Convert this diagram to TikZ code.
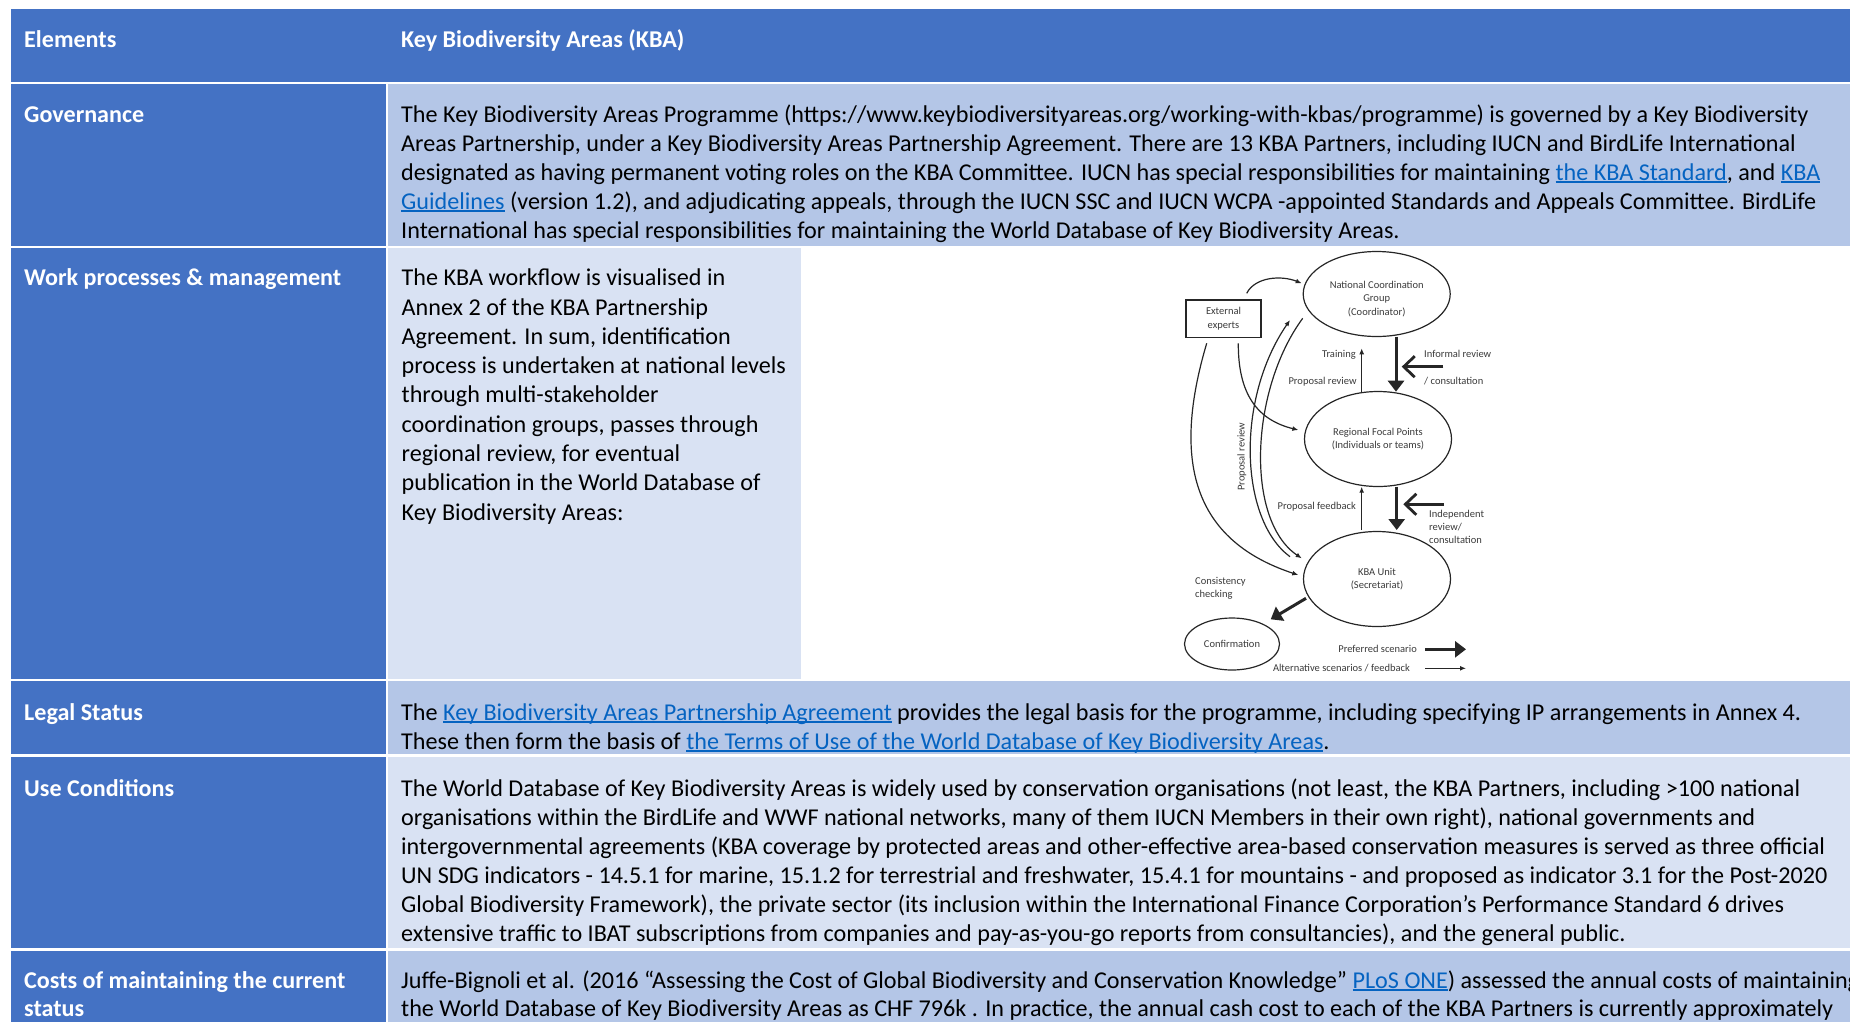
\documentclass[tikz,border=0pt]{standalone}
\usepackage{fontspec}
\setmainfont{Carlito}
\usetikzlibrary{arrows.meta,shapes.geometric,calc}
\definecolor{hdr}{HTML}{4472C4}
\definecolor{darkcell}{HTML}{B4C6E7}
\definecolor{lightcell}{HTML}{D9E2F3}
\definecolor{linkblue}{HTML}{0563C1}
\definecolor{dg}{HTML}{3A3A3A}
\definecolor{dl}{HTML}{262626}
\newlength\lnkw
\newcommand\lnk[1]{\settowidth\lnkw{#1}\textcolor{linkblue}{\rlap{\rule[-2.6pt]{\lnkw}{1.6pt}}#1}}
\begin{document}
\begin{tikzpicture}[x=1pt,y=-1pt,
  lbl/.style={anchor=base west,text=white,font=\bfseries\fontsize{24.1}{29}\selectfont,inner sep=0,align=left},
  txt/.style={anchor=base west,text=black,font=\fontsize{24.15}{29}\selectfont,inner sep=0},
  dtxt/.style={text=dg,font=\fontsize{10.5}{13.3}\selectfont,align=center,inner sep=0},
  ell/.style={ellipse,draw=dl,line width=1.2pt,inner sep=0},
  thinarr/.style={draw=dl,line width=1.2pt,-{Latex[length=6pt,width=5pt]}},
  thickarr/.style={draw=dl,line width=3pt,-{Triangle[length=11pt,width=16pt]}},
  barbarr/.style={draw=dl,line width=2.8pt,-{Straight Barb[length=11pt,width=21pt]}}
]
\useasboundingbox (0,0) rectangle (1850,1021);
\clip (0,0) rectangle (1850,1021);
% ---------- table fills ----------
\fill[hdr] (10.5,9) rectangle (1850,81.5);
\fill[hdr] (10.5,84) rectangle (385.5,245.5);
\fill[darkcell] (388,84) rectangle (1850,245.5);
\fill[hdr] (10.5,247.5) rectangle (385.5,679);
\fill[lightcell] (388,247.5) rectangle (801,679);
\fill[hdr] (10.5,681) rectangle (385.5,754);
\fill[darkcell] (388,681) rectangle (1850,754);
\fill[hdr] (10.5,757) rectangle (385.5,948);
\fill[lightcell] (388,757) rectangle (1850,948);
\fill[hdr] (10.5,950.5) rectangle (385.5,1030);
\fill[darkcell] (388,950.5) rectangle (1850,1030);
% ---------- header ----------
\node[lbl] (hA) at (24,47.7) {Elements};
\node[lbl] (hB) at (401,47.7) {Key Biodiversity Areas (KBA)};
% ---------- governance ----------
\node[lbl] (lGov) at (24,122) {Governance};
\node[txt] (g1) at (401,122) {The Key Biodiversity Areas Programme (https://www.keybiodiversityareas.org/working-with-kbas/programme) is governed by a Key Biodiversity};
\node[txt] (g2) at (401,151) {Areas Partnership, under a Key Biodiversity Areas Partnership Agreement. There are 13 KBA Partners, including IUCN and BirdLife International};
\node[txt] (g3) at (401,180) {designated as having permanent voting roles on the KBA Committee. IUCN has special responsibilities for maintaining \lnk{the KBA Standard}, and \lnk{KBA}};
\node[txt] (g4) at (401,209) {\lnk{Guidelines} (version 1.2), and adjudicating appeals, through the IUCN SSC and IUCN WCPA -appointed Standards and Appeals Committee. BirdLife};
\node[txt] (g5) at (401,238) {International has special responsibilities for maintaining the World Database of Key Biodiversity Areas.};
% ---------- work processes ----------
\node[lbl] (lWork) at (24,285.7) {Work processes \& management};
\node[txt] (w1) at (401.5,285.7) {The KBA workflow is visualised in};
\node[txt] (w2) at (401.5,315) {Annex 2 of the KBA Partnership};
\node[txt] (w3) at (401.5,344.3) {Agreement. In sum, identification};
\node[txt] (w4) at (401.5,373.6) {process is undertaken at national levels};
\node[txt] (w5) at (401.5,402.9) {through multi-stakeholder};
\node[txt] (w6) at (401.5,432.2) {coordination groups, passes through};
\node[txt] (w7) at (401.5,461.5) {regional review, for eventual};
\node[txt] (w8) at (401.5,490.8) {publication in the World Database of};
\node[txt] (w9) at (401.5,520.1) {Key Biodiversity Areas:};
% ---------- legal ----------
\node[lbl] (lLegal) at (24,720) {Legal Status};
\node[txt] (l1) at (401,720) {The \lnk{Key Biodiversity Areas Partnership Agreement} provides the legal basis for the programme, including specifying IP arrangements in Annex 4.};
\node[txt] (l2) at (401,749) {These then form the basis of \lnk{the Terms of Use of the World Database of Key Biodiversity Areas}.};
% ---------- use ----------
\node[lbl] (lUse) at (24,796) {Use Conditions};
\node[txt] (u1) at (401,796) {The World Database of Key Biodiversity Areas is widely used by conservation organisations (not least, the KBA Partners, including >100 national};
\node[txt] (u2) at (401,825) {organisations within the BirdLife and WWF national networks, many of them IUCN Members in their own right), national governments and};
\node[txt] (u3) at (401,854) {intergovernmental agreements (KBA coverage by protected areas and other-effective area-based conservation measures is served as three official};
\node[txt] (u4) at (401,883) {UN SDG indicators - 14.5.1 for marine, 15.1.2 for terrestrial and freshwater, 15.4.1 for mountains - and proposed as indicator 3.1 for the Post-2020};
\node[txt] (u5) at (401,912) {Global Biodiversity Framework), the private sector (its inclusion within the International Finance Corporation’s Performance Standard 6 drives};
\node[txt] (u6) at (401,941) {extensive traffic to IBAT subscriptions from companies and pay-as-you-go reports from consultancies), and the general public.};
% ---------- costs ----------
\node[lbl] (lCost1) at (24,988.3) {Costs of maintaining the current};
\node[lbl] (lCost2) at (24,1016.7) {status};
\node[txt] (c1) at (401,988.3) {Juffe-Bignoli et al. (2016 “Assessing the Cost of Global Biodiversity and Conservation Knowledge” \lnk{PLoS ONE}) assessed the annual costs of maintaining};
\node[txt] (c2) at (401,1016.7) {the World Database of Key Biodiversity Areas as CHF 796k . In practice, the annual cash cost to each of the KBA Partners is currently approximately};
% ---------- workflow diagram ----------
\node[ell,minimum width=147pt,minimum height=85pt] (ncg) at (1376.7,294) {};
\node[dtxt] (ncgt) at (1376.7,299) {National Coordination\\Group\\(Coordinator)};
\node[draw=dl,line width=1.2pt,minimum width=75pt,minimum height=37.7pt,dtxt] (ext) at (1223.5,318.8) {External\\experts};
\node[ell,minimum width=147pt,minimum height=95pt,dtxt] (rfp) at (1378,439) {Regional Focal Points\\(Individuals or teams)};
\node[ell,minimum width=147pt,minimum height=95pt,dtxt] (kba) at (1377,579) {KBA Unit\\(Secretariat)};
\node[ell,minimum width=95pt,minimum height=52pt,dtxt] (conf) at (1232,644) {Confirmation};
% labels
\node[dtxt,anchor=east] (tTrain) at (1356,355) {Training};
\node[dtxt,anchor=east] (tPropRev) at (1356.7,381.7) {Proposal review};
\node[dtxt,anchor=west] (tInf1) at (1424,354.3) {Informal review};
\node[dtxt,anchor=west] (tInf2) at (1424,381) {/ consultation};
\node[dtxt,anchor=east] (tFeed) at (1356,506.7) {Proposal feedback};
\node[dtxt,anchor=west,align=left] (tIndep) at (1429,526.7) {Independent\\review/\\consultation};
\node[dtxt,anchor=west,align=left] (tCons) at (1195,588.5) {Consistency\\checking};
\node[dtxt,rotate=90] (tPropRevV) at (1241.7,456.7) {Proposal review};
\node[dtxt,anchor=east] (tPref) at (1417,649.3) {Preferred scenario};
\node[dtxt,anchor=east] (tAlt) at (1410,668.3) {Alternative scenarios / feedback};
% free ends
\coordinate (infS) at (1443.3,366.7);
\coordinate (infE) at (1401.7,366.7);
\coordinate (indS) at (1444,504.3);
\coordinate (indE) at (1403.3,504.3);
\coordinate (prefS) at (1425,649.3);
\coordinate (prefE) at (1466,649.3);
\coordinate (altS) at (1425,668.3);
\coordinate (altE) at (1466,668.3);
% connectors
\draw[thinarr] ($(ext.center)+(23.2,-25.5)$) .. controls (1255,277) and (1281,275) .. ($(ncg.center)+(-75,-10.7)$);
\draw[thinarr] ($(ext.center)+(14.8,24.5)$) .. controls (1238,395) and (1258,420) .. ($(rfp.center)+(-79.7,-9)$);
\draw[thinarr] ($(ext.center)+(-16.8,24.5)$) .. controls (1172,460) and (1192,540) .. ($(kba.center)+(-78.7,-4)$);
\draw[thinarr] ($(kba.center)+(-87,-22.3)$) .. controls (1240,520) and (1235,400) .. ($(ncg.center)+(-86.7,26)$);
\draw[thinarr] ($(ncg.center)+(-74,24.3)$) .. controls (1250,390) and (1245,520) .. ($(kba.center)+(-75.3,-20.7)$);
\draw[thinarr] ($(rfp.center)+(-16.3,-47.3)$) -- ($(ncg.center)+(-15,54.3)$);
\draw[thickarr] ($(ncg.center)+(19.3,42.7)$) -- ($(rfp.center)+(18,-47.3)$);
\draw[barbarr] (infS) -- (infE);
\draw[thinarr] ($(kba.center)+(-15.3,-49)$) -- ($(rfp.center)+(-16.3,47.7)$);
\draw[thickarr] ($(rfp.center)+(18.7,47.7)$) -- ($(kba.center)+(19.7,-49)$);
\draw[barbarr] (indS) -- (indE);
\draw[thickarr] ($(kba.center)+(-71,19.3)$) -- ($(conf.center)+(38.7,-24.7)$);
\draw[thickarr] (prefS) -- (prefE);
\draw[thinarr] (altS) -- (altE);
\end{tikzpicture}
\end{document}
